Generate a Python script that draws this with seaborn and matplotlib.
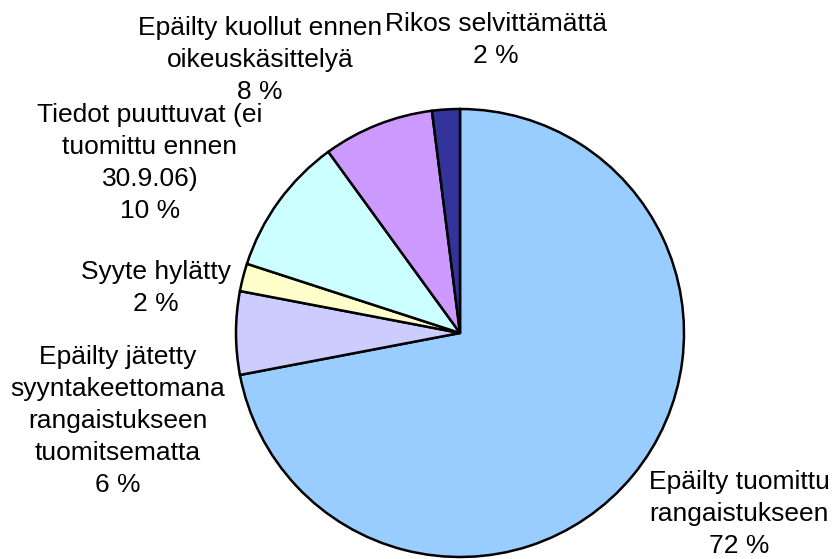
import matplotlib
matplotlib.use("Agg")
import matplotlib.pyplot as plt
import seaborn as sns

# Data
categories = [
    "Epäilty tuomittu\nrangaistukseen",
    "Epäilty jätetty\nsyyntakeettomana\nrangaistukseen\ntuomitsematta",
    "Syyte hylätty",
    "Tiedot puuttuvat (ei\ntuomittu ennen\n30.9.06)",
    "Epäilty kuollut ennen\noikeuskäsittelyä",
    "Rikos selvittämättä",
]
values = [72, 6, 2, 10, 8, 2]
colors = ["#99CCFF", "#CCCCFF", "#FFFFCC", "#CCFFFF", "#CC99FF", "#333399"]

# Label placement (pixels: center x, last-line baseline y)
label_pos = [(739, 553), (118, 492), (156, 311), (150, 218), (260, 99), (496, 63)]

sns.set_theme(style="white")
plt.rcParams["font.family"] = ["Liberation Sans", "DejaVu Sans"]

W, H = 832, 559
fig = plt.figure(figsize=(W / 100, H / 100), dpi=100)
ax = fig.add_axes([0, 0, 1, 1])

cx, cy, R = 460, 333, 224
ax.pie(values, colors=colors, startangle=90, counterclock=False, radius=1,
       wedgeprops=dict(edgecolor="black", linewidth=1.8))
ax.set_aspect("auto")
ax.set_xlim(-cx / R, (W - cx) / R)
ax.set_ylim((cy - H) / R, cy / R)
ax.axis("off")

for cat, val, (px, py) in zip(categories, values, label_pos):
    fig.text(px / W, 1 - py / H, f"{cat}\n{val} %", ha="center", va="baseline",
             multialignment="center", fontsize=19, linespacing=1.42, color="black")

fig.savefig("out.png", dpi=100, facecolor="white")
